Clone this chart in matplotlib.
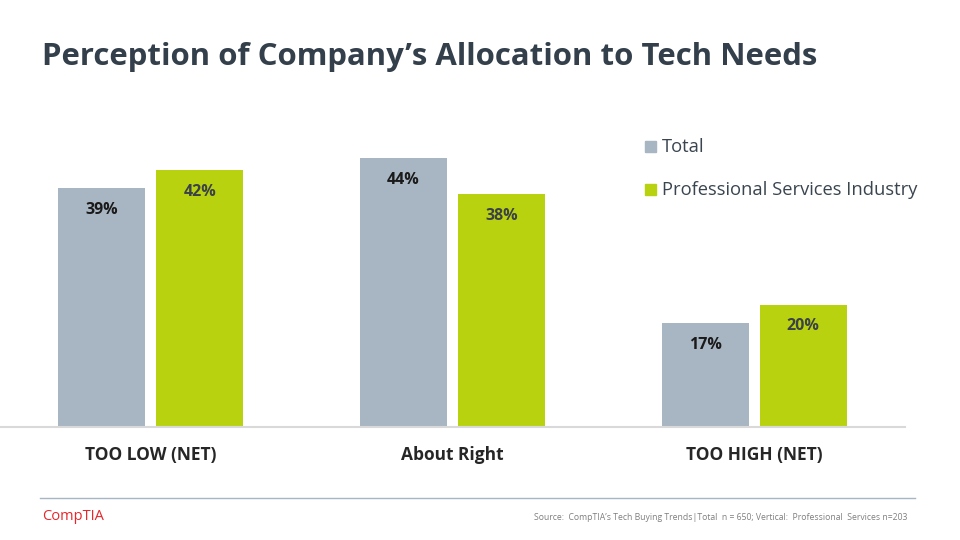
import matplotlib
matplotlib.use("Agg")
import matplotlib.pyplot as plt
import numpy as np
from matplotlib.lines import Line2D
from matplotlib.patches import Rectangle

plt.rcParams["font.family"] = ["Open Sans", "DejaVu Sans"]

categories = ["TOO LOW (NET)", "About Right", "TOO HIGH (NET)"]
series_names = ["Total", "Professional Services Industry"]
total = [39, 44, 17]
prof_services = [42, 38, 20]

C_TOTAL = "#a8b5c2"
C_PSI = "#b9d20f"

W, H = 960, 540
fig = plt.figure(figsize=(9.6, 5.4), dpi=100)

# axes: x from 0 to 905 px, baseline at y=427, 0..50 over 306 px
ax = fig.add_axes([0 / W, (H - 427) / H, 905 / W, 306 / H])
x = np.arange(len(categories))
bw = 0.289
off = 0.1625
b1 = ax.bar(x - off, total, width=bw, color=C_TOTAL, zorder=2)
b2 = ax.bar(x + off, prof_services, width=bw, color=C_PSI, zorder=2)
ax.set_xlim(-0.5, 2.5)
ax.set_ylim(0, 50)
for s in ["top", "right", "left"]:
    ax.spines[s].set_visible(False)
ax.spines["bottom"].set_color("#d9d9d9")
ax.spines["bottom"].set_linewidth(1.5)
ax.set_yticks([])
ax.set_xticks(x)
ax.set_xticklabels(categories, fontsize=12.5, fontweight="bold", color="#262626")
ax.tick_params(axis="x", length=0, pad=14)

for bars, vals, col in [(b1, total, "#1a1a1a"), (b2, prof_services, "#3b4148")]:
    for r, v in zip(bars, vals):
        ax.annotate(f"{v}%", (r.get_x() + r.get_width() / 2, v), xytext=(0, -10),
                    textcoords="offset points", ha="center", va="top",
                    fontsize=11.5, fontweight="bold", color=col)

# title
fig.text(42 / W, 1 - 57 / H, "Perception of Company\u2019s Allocation to Tech Needs",
         fontsize=22.4, fontweight="bold", color="#333f4b", ha="left", va="center")

# legend
for i, (name, col) in enumerate(zip(series_names, [C_TOTAL, C_PSI])):
    y = 147 + i * 43
    fig.patches.append(Rectangle((645 / W, 1 - (y + 5) / H), 11 / W, 11 / H,
                                 transform=fig.transFigure, color=col))
    fig.text(662 / W, 1 - y / H, name, fontsize=13.2, color="#3a4550",
             ha="left", va="center")

# footer
fig.add_artist(Line2D([40 / W, 915 / W], [1 - 498 / H, 1 - 498 / H],
                      color="#a8b5c2", lw=1, transform=fig.transFigure))
fig.text(42 / W, 1 - 516 / H, "CompTIA", fontsize=10.5, color="#e8262c",
         ha="left", va="center")
fig.text(907 / W, 1 - 518 / H,
         "Source:  CompTIA\u2019s Tech Buying Trends|Total  n = 650; Vertical:  Professional  Services n=203",
         fontsize=6.2, color="#7f7f7f", ha="right", va="center")

fig.savefig("out.png", dpi=100)
